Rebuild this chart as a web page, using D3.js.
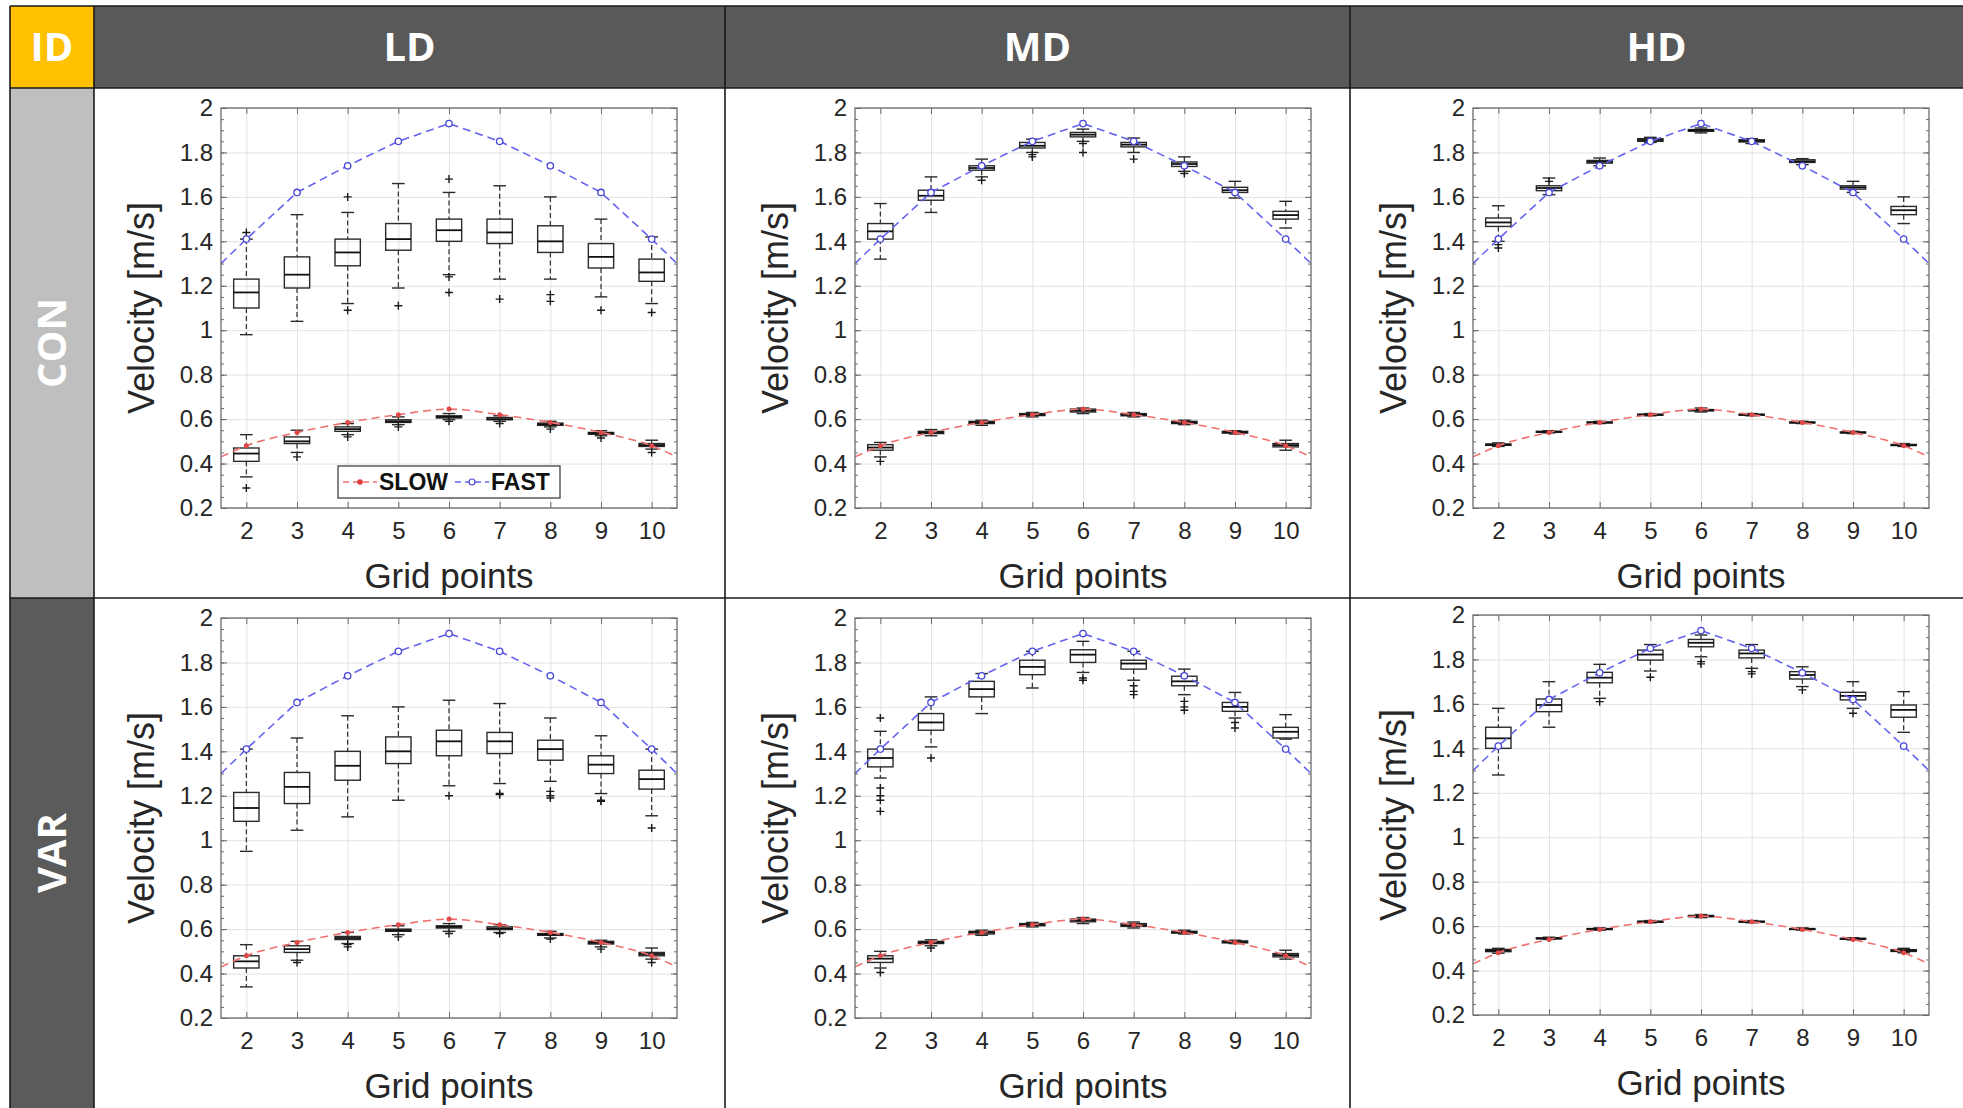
<!DOCTYPE html>
<html>
<head>
<meta charset="utf-8">
<script src="https://cdn.jsdelivr.net/npm/d3@7"></script>
<style>
  body { margin: 0; background: #fff; }
  svg { display: block; }
</style>
</head>
<body>
<div id="container"></div>
<script>
/* CONSTANTS AND GLOBALS */
const width = 1963;
const height = 1108;

/* DATA */
const gridPoints = [2, 3, 4, 5, 6, 7, 8, 9, 10];
const yTicks = [0.2, 0.4, 0.6, 0.8, 1, 1.2, 1.4, 1.6, 1.8, 2];
const yTickLabels = ["0.2", "0.4", "0.6", "0.8", "1", "1.2", "1.4", "1.6", "1.8", "2"];
const colHeads = ["LD", "MD", "HD"];
const rowHeads = ["CON", "VAR"];
const seriesNames = ["SLOW", "FAST"];

// reference lines (first/last point is where the line leaves the axes)
const refX = [1.5, 2, 3, 4, 5, 6, 7, 8, 9, 10, 10.5];
const fastRef = [1.30, 1.41, 1.62, 1.74, 1.85, 1.93, 1.85, 1.74, 1.62, 1.41, 1.30];
const slowRef = [0.43, 0.48, 0.54, 0.585, 0.62, 0.645, 0.62, 0.585, 0.54, 0.48, 0.43];

// boxes: [lower whisker, q1, median, q3, upper whisker] per grid point
const ldConFast = [[0.98,1.10,1.17,1.23,1.41],[1.04,1.19,1.25,1.33,1.52],[1.12,1.29,1.35,1.41,1.53],[1.19,1.36,1.41,1.48,1.66],[1.25,1.40,1.45,1.50,1.62],[1.23,1.39,1.44,1.50,1.65],[1.23,1.35,1.40,1.47,1.60],[1.15,1.28,1.33,1.39,1.50],[1.12,1.22,1.26,1.32,1.42]];
const ldConFastOut = [[1.44],[],[1.09,1.60],[1.11],[1.17,1.24,1.68],[1.14],[1.13,1.16],[1.09],[1.08]];
const ldConSlow = [[0.34,0.41,0.445,0.47,0.53],[0.45,0.49,0.50,0.52,0.55],[0.53,0.545,0.555,0.565,0.58],[0.575,0.585,0.59,0.597,0.61],[0.597,0.605,0.61,0.615,0.625],[0.59,0.597,0.60,0.607,0.615],[0.565,0.572,0.577,0.582,0.59],[0.525,0.532,0.536,0.54,0.548],[0.465,0.477,0.483,0.49,0.505]];
const ldConSlowOut = [[0.29],[0.43],[0.52],[0.565],[0.59],[0.58],[0.555],[0.515],[0.45]];

const mdConFast = [[1.32,1.41,1.445,1.48,1.57],[1.53,1.585,1.605,1.63,1.69],[1.69,1.72,1.73,1.74,1.77],[1.80,1.82,1.83,1.845,1.86],[1.85,1.87,1.88,1.89,1.905],[1.80,1.825,1.835,1.845,1.865],[1.715,1.737,1.748,1.757,1.78],[1.595,1.62,1.63,1.643,1.67],[1.46,1.50,1.518,1.535,1.58]];
const mdConFastOut = [[],[],[1.675],[1.78,1.79],[1.80,1.84],[1.77],[1.705],[],[]];
const mdConSlow = [[0.43,0.46,0.472,0.485,0.495],[0.525,0.535,0.54,0.545,0.553],[0.572,0.58,0.585,0.59,0.595],[0.61,0.616,0.62,0.625,0.63],[0.625,0.632,0.638,0.645,0.65],[0.61,0.615,0.62,0.625,0.63],[0.575,0.58,0.585,0.59,0.595],[0.533,0.537,0.541,0.545,0.548],[0.46,0.475,0.483,0.49,0.505]];
const mdConSlowOut = [[0.41],[],[],[],[],[],[],[],[]];

const hdConFast = [[1.40,1.467,1.485,1.505,1.56],[1.61,1.628,1.64,1.65,1.685],[1.74,1.752,1.758,1.764,1.775],[1.845,1.85,1.856,1.862,1.868],[1.888,1.895,1.90,1.903,1.91],[1.84,1.847,1.852,1.857,1.862],[1.745,1.755,1.76,1.767,1.772],[1.62,1.635,1.643,1.65,1.67],[1.48,1.52,1.54,1.557,1.60]];
const hdConFastOut = [[1.37,1.385],[1.67],[],[],[],[],[],[],[]];
const hdConSlow = [[0.477,0.482,0.485,0.488,0.493],[0.538,0.541,0.543,0.545,0.548],[0.58,0.583,0.585,0.587,0.59],[0.615,0.618,0.62,0.622,0.625],[0.632,0.637,0.64,0.643,0.65],[0.615,0.618,0.62,0.622,0.625],[0.58,0.583,0.585,0.587,0.59],[0.535,0.538,0.54,0.542,0.545],[0.477,0.481,0.483,0.486,0.49]];
const hdConSlowOut = [[],[],[],[],[],[],[],[],[]];

const ldVarFast = [[0.95,1.085,1.145,1.215,1.41],[1.045,1.165,1.24,1.305,1.46],[1.105,1.27,1.335,1.40,1.56],[1.18,1.345,1.40,1.465,1.60],[1.245,1.38,1.445,1.495,1.63],[1.255,1.39,1.445,1.485,1.615],[1.265,1.36,1.41,1.45,1.55],[1.21,1.30,1.34,1.38,1.47],[1.11,1.23,1.275,1.315,1.41]];
const ldVarFastOut = [[],[],[],[],[1.20],[1.205,1.21],[1.19,1.20,1.22],[1.175,1.18],[1.055]];
const ldVarSlow = [[0.34,0.425,0.455,0.48,0.53],[0.46,0.495,0.51,0.525,0.545],[0.535,0.553,0.56,0.567,0.585],[0.575,0.59,0.595,0.60,0.615],[0.59,0.605,0.61,0.615,0.625],[0.585,0.598,0.603,0.61,0.62],[0.56,0.572,0.576,0.58,0.59],[0.52,0.533,0.538,0.545,0.55],[0.465,0.48,0.488,0.495,0.515]];
const ldVarSlowOut = [[],[0.45],[0.52,0.53],[0.565],[0.58],[0.58],[0.555],[0.51],[0.45]];

const mdVarFast = [[1.28,1.33,1.37,1.41,1.49],[1.42,1.495,1.53,1.57,1.645],[1.57,1.645,1.68,1.715,1.75],[1.685,1.745,1.78,1.81,1.85],[1.755,1.80,1.835,1.857,1.895],[1.72,1.77,1.795,1.81,1.85],[1.655,1.695,1.715,1.738,1.77],[1.55,1.58,1.60,1.62,1.665],[1.455,1.46,1.488,1.508,1.565]];
const mdVarFastOut = [[1.13,1.18,1.20,1.235,1.55],[1.37],[],[],[1.72,1.73],[1.655,1.67,1.695],[1.585,1.60,1.625],[1.505,1.53],[]];
const mdVarSlow = [[0.425,0.45,0.467,0.48,0.50],[0.525,0.535,0.54,0.545,0.552],[0.572,0.578,0.585,0.59,0.595],[0.61,0.615,0.62,0.625,0.63],[0.625,0.633,0.64,0.645,0.652],[0.605,0.612,0.618,0.625,0.632],[0.578,0.582,0.586,0.59,0.595],[0.535,0.538,0.542,0.547,0.55],[0.465,0.475,0.483,0.49,0.505]];
const mdVarSlowOut = [[0.405],[0.515],[],[],[],[],[],[],[]];

const hdVarFast = [[1.28,1.40,1.445,1.495,1.58],[1.495,1.565,1.595,1.622,1.70],[1.625,1.695,1.718,1.742,1.778],[1.748,1.797,1.822,1.842,1.867],[1.812,1.857,1.875,1.89,1.91],[1.76,1.807,1.827,1.842,1.867],[1.678,1.712,1.73,1.745,1.767],[1.58,1.618,1.636,1.652,1.70],[1.472,1.54,1.573,1.595,1.655]];
const hdVarFastOut = [[],[],[1.61],[1.72],[1.78,1.79],[1.735,1.745],[1.663],[1.558],[]];
const hdVarSlow = [[0.478,0.485,0.49,0.495,0.50],[0.54,0.543,0.545,0.547,0.55],[0.582,0.585,0.587,0.589,0.592],[0.615,0.618,0.62,0.622,0.625],[0.638,0.642,0.645,0.648,0.652],[0.615,0.618,0.62,0.622,0.625],[0.582,0.585,0.587,0.589,0.592],[0.538,0.541,0.543,0.545,0.548],[0.48,0.486,0.49,0.494,0.50]];
const hdVarSlowOut = [[],[],[],[],[],[],[],[],[]];

/* LAYOUT */
const tableLeft = 10, tableTop = 6;
const colX = [94, 725, 1350, 1963];
const rowY = [88, 598, 1108];
const plotLeft = [221, 855, 1473];
const plotTop = [[108, 108, 108], [618, 618, 615]];
const plotW = 456;
const plotH = 400;
const headGrey = "#595959";
const axisFont = "'Liberation Sans', Arial, sans-serif";
const headFont = "'Open Sans', 'Noto Sans', sans-serif";

const panels = [
  { row: 0, col: 0, fast: ldConFast, fastOut: ldConFastOut, slow: ldConSlow, slowOut: ldConSlowOut, legend: true },
  { row: 0, col: 1, fast: mdConFast, fastOut: mdConFastOut, slow: mdConSlow, slowOut: mdConSlowOut },
  { row: 0, col: 2, fast: hdConFast, fastOut: hdConFastOut, slow: hdConSlow, slowOut: hdConSlowOut },
  { row: 1, col: 0, fast: ldVarFast, fastOut: ldVarFastOut, slow: ldVarSlow, slowOut: ldVarSlowOut },
  { row: 1, col: 1, fast: mdVarFast, fastOut: mdVarFastOut, slow: mdVarSlow, slowOut: mdVarSlowOut },
  { row: 1, col: 2, fast: hdVarFast, fastOut: hdVarFastOut, slow: hdVarSlow, slowOut: hdVarSlowOut },
];

const svg = d3.select("#container").append("svg")
  .attr("width", width)
  .attr("height", height);

/* TABLE FRAME */
svg.append("rect").attr("x", tableLeft).attr("y", tableTop).attr("width", width - tableLeft).attr("height", rowY[0] - tableTop).attr("fill", headGrey);
svg.append("rect").attr("x", tableLeft).attr("y", tableTop).attr("width", colX[0] - tableLeft).attr("height", rowY[0] - tableTop).attr("fill", "#FFC000");
svg.append("rect").attr("x", tableLeft).attr("y", rowY[0]).attr("width", colX[0] - tableLeft).attr("height", rowY[1] - rowY[0]).attr("fill", "#BFBFBF");
svg.append("rect").attr("x", tableLeft).attr("y", rowY[1]).attr("width", colX[0] - tableLeft).attr("height", rowY[2] - rowY[1]).attr("fill", "#5b5b5b");

svg.append("text")
  .attr("x", (tableLeft + colX[0]) / 2).attr("y", (tableTop + rowY[0]) / 2).attr("dy", "0.36em")
  .attr("text-anchor", "middle").attr("fill", "#fff")
  .style("font-family", headFont).style("font-weight", 700).style("font-size", "40px")
  .text("ID");

svg.selectAll("text.colhead")
  .data(colHeads)
  .join("text")
  .attr("class", "colhead")
  .attr("x", (d, i) => (colX[i] + colX[i + 1]) / 2)
  .attr("y", (tableTop + rowY[0]) / 2).attr("dy", "0.36em")
  .attr("text-anchor", "middle").attr("fill", "#fff")
  .style("font-family", headFont).style("font-weight", 700).style("font-size", "40px")
  .text(d => d);

svg.selectAll("text.rowhead")
  .data(rowHeads)
  .join("text")
  .attr("class", "rowhead")
  .attr("transform", (d, i) => `translate(${(tableLeft + colX[0]) / 2},${(rowY[i] + rowY[i + 1]) / 2}) rotate(-90)`)
  .attr("dy", "0.36em")
  .attr("text-anchor", "middle").attr("fill", "#fff")
  .style("font-family", headFont).style("font-weight", 700).style("font-size", "40px")
  .text(d => d);

// cell borders
const borders = svg.append("g").attr("stroke", "#1a1a1a").attr("stroke-width", 1.6);
borders.append("line").attr("x1", tableLeft).attr("x2", width).attr("y1", tableTop).attr("y2", tableTop);
borders.append("line").attr("x1", tableLeft).attr("x2", tableLeft).attr("y1", tableTop).attr("y2", height);
[rowY[0], rowY[1]].forEach(yy =>
  borders.append("line").attr("x1", tableLeft).attr("x2", width).attr("y1", yy).attr("y2", yy));
[colX[0], colX[1], colX[2]].forEach(xx =>
  borders.append("line").attr("x1", xx).attr("x2", xx).attr("y1", tableTop).attr("y2", height));

/* PANELS */
panels.forEach(p => drawPanel(p));

function drawPanel(p) {
  const g = svg.append("g")
    .attr("transform", `translate(${plotLeft[p.col]},${plotTop[p.row][p.col]})`);

  const x = d3.scaleLinear().domain([1.5, 10.5]).range([0, plotW]);
  const y = d3.scaleLinear().domain([0.2, 2]).range([plotH, 0]);

  // grid
  const gx = g.append("g").attr("transform", `translate(0,${plotH})`)
    .call(d3.axisBottom(x).tickValues(gridPoints).tickSize(-plotH).tickFormat(""));
  const gy = g.append("g")
    .call(d3.axisLeft(y).tickValues(yTicks).tickSize(-plotW).tickFormat(""));
  [gx, gy].forEach(a => {
    a.select(".domain").remove();
    a.selectAll("line").attr("stroke", "#e2e2e2").attr("stroke-width", 1);
  });

  // boxes
  const halfW = (x(3) - x(2)) * 0.25;
  drawBoxes(g, x, y, p.fast, p.fastOut, halfW);
  drawBoxes(g, x, y, p.slow, p.slowOut, halfW);

  // reference lines
  const line = d3.line().x((d, i) => x(refX[i])).y(d => y(d));
  g.append("path").datum(fastRef)
    .attr("fill", "none").attr("stroke", "#6464f0").attr("stroke-width", 1.6)
    .attr("stroke-dasharray", "8,5").attr("d", line);
  g.append("path").datum(slowRef)
    .attr("fill", "none").attr("stroke", "#f06e6e").attr("stroke-width", 1.6)
    .attr("stroke-dasharray", "8,5").attr("d", line.curve(d3.curveMonotoneX));
  g.selectAll("circle.fastpt")
    .data(gridPoints)
    .join("circle")
    .attr("class", "fastpt")
    .attr("cx", d => x(d)).attr("cy", (d, i) => y(fastRef[i + 1]))
    .attr("r", 3.2).attr("fill", "#fff").attr("stroke", "#4646d8").attr("stroke-width", 1.3);
  g.selectAll("circle.slowpt")
    .data(gridPoints)
    .join("circle")
    .attr("class", "slowpt")
    .attr("cx", d => x(d)).attr("cy", (d, i) => y(slowRef[i + 1]))
    .attr("r", 2.5).attr("fill", "#e04848");

  // frame and inward ticks
  g.append("rect").attr("width", plotW).attr("height", plotH)
    .attr("fill", "none").attr("stroke", "#6b6b6b").attr("stroke-width", 1.3);
  const tickSets = [
    [d3.axisBottom(x).tickValues(gridPoints).tickSize(-6), `translate(0,${plotH})`],
    [d3.axisTop(x).tickValues(gridPoints).tickSize(-6), "translate(0,0)"],
    [d3.axisLeft(y).tickValues(yTicks).tickSize(-6), "translate(0,0)"],
    [d3.axisRight(y).tickValues(yTicks).tickSize(-6), `translate(${plotW},0)`],
    [d3.axisLeft(y).tickValues(d3.range(0.25, 2, 0.05)).tickSize(-3), "translate(0,0)"],
    [d3.axisRight(y).tickValues(d3.range(0.25, 2, 0.05)).tickSize(-3), `translate(${plotW},0)`],
  ];
  tickSets.forEach(([ax, tr]) => {
    const a = g.append("g").attr("transform", tr).call(ax.tickFormat(""));
    a.select(".domain").remove();
    a.selectAll("line").attr("stroke", "#6b6b6b").attr("stroke-width", 1);
  });

  // tick labels
  const xl = g.append("g").attr("transform", `translate(0,${plotH})`)
    .call(d3.axisBottom(x).tickValues(gridPoints).tickSize(0).tickPadding(14));
  const yl = g.append("g")
    .call(d3.axisLeft(y).tickValues(yTicks).tickSize(0).tickPadding(8)
      .tickFormat((d, i) => yTickLabels[i]));
  [xl, yl].forEach(a => {
    a.select(".domain").remove();
    a.selectAll("text").attr("fill", "#262626")
      .style("font-family", axisFont).style("font-size", "24px");
  });

  // axis titles
  g.append("text")
    .attr("transform", `translate(-80,${plotH / 2}) rotate(-90)`)
    .attr("text-anchor", "middle").attr("dy", "0.35em").attr("fill", "#262626")
    .style("font-family", axisFont).style("font-size", "36px")
    .text("Velocity [m/s]");
  g.append("text")
    .attr("x", plotW / 2).attr("y", plotH + 68)
    .attr("text-anchor", "middle").attr("dy", "0.35em").attr("fill", "#262626")
    .style("font-family", axisFont).style("font-size", "35px")
    .text("Grid points");

  if (p.legend) drawLegend(g);
}

function drawBoxes(g, x, y, stats, outs, halfW) {
  const data = stats.map((s, i) => ({ gp: gridPoints[i], s: s, out: outs[i] }));
  const bg = g.append("g").attr("stroke", "#2a2a2a").attr("fill", "none");
  const box = bg.selectAll("g.box").data(data).join("g").attr("class", "box");

  // whiskers
  box.append("line")
    .attr("x1", d => x(d.gp)).attr("x2", d => x(d.gp))
    .attr("y1", d => y(d.s[4])).attr("y2", d => y(d.s[3]))
    .attr("stroke-dasharray", "5,3").attr("stroke-width", 1.2);
  box.append("line")
    .attr("x1", d => x(d.gp)).attr("x2", d => x(d.gp))
    .attr("y1", d => y(d.s[1])).attr("y2", d => y(d.s[0]))
    .attr("stroke-dasharray", "5,3").attr("stroke-width", 1.2);
  // caps
  [0, 4].forEach(k => box.append("line")
    .attr("x1", d => x(d.gp) - halfW / 2).attr("x2", d => x(d.gp) + halfW / 2)
    .attr("y1", d => y(d.s[k])).attr("y2", d => y(d.s[k]))
    .attr("stroke-width", 1.4));
  // box
  box.append("rect")
    .attr("x", d => x(d.gp) - halfW).attr("width", 2 * halfW)
    .attr("y", d => y(d.s[3])).attr("height", d => Math.max(1, y(d.s[1]) - y(d.s[3])))
    .attr("stroke-width", 1.4);
  // median
  box.append("line")
    .attr("x1", d => x(d.gp) - halfW).attr("x2", d => x(d.gp) + halfW)
    .attr("y1", d => y(d.s[2])).attr("y2", d => y(d.s[2]))
    .attr("stroke", "#111").attr("stroke-width", 1.8);
  // outliers
  box.selectAll("path.out")
    .data(d => d.out.map(v => ({ gp: d.gp, v: v })))
    .join("path")
    .attr("class", "out")
    .attr("d", d => `M${x(d.gp) - 4},${y(d.v)}h8M${x(d.gp)},${y(d.v) - 4}v8`)
    .attr("stroke", "#1a1a1a").attr("stroke-width", 1.4);
}

function drawLegend(g) {
  const lg = g.append("g").attr("transform", "translate(117,358)");
  lg.append("rect").attr("width", 222).attr("height", 32)
    .attr("fill", "#fff").attr("stroke", "#333").attr("stroke-width", 1.2);
  const items = [
    { name: seriesNames[0], color: "#f06e6e", dot: "#e03c3c", open: false, x0: 5 },
    { name: seriesNames[1], color: "#6464f0", dot: "#4646d8", open: true, x0: 117 },
  ];
  items.forEach(it => {
    lg.append("line").attr("x1", it.x0).attr("x2", it.x0 + 34).attr("y1", 16).attr("y2", 16)
      .attr("stroke", it.color).attr("stroke-width", 1.6).attr("stroke-dasharray", "6,4");
    lg.append("circle").attr("cx", it.x0 + 17).attr("cy", 16).attr("r", it.open ? 3 : 2.8)
      .attr("fill", it.open ? "#fff" : it.dot).attr("stroke", it.open ? it.dot : "none").attr("stroke-width", 1.2);
    lg.append("text").attr("x", it.x0 + 36).attr("y", 16).attr("dy", "0.36em")
      .attr("fill", "#111").style("font-family", axisFont).style("font-weight", 700).style("font-size", "23px")
      .text(it.name);
  });
}
</script>
</body>
</html>
